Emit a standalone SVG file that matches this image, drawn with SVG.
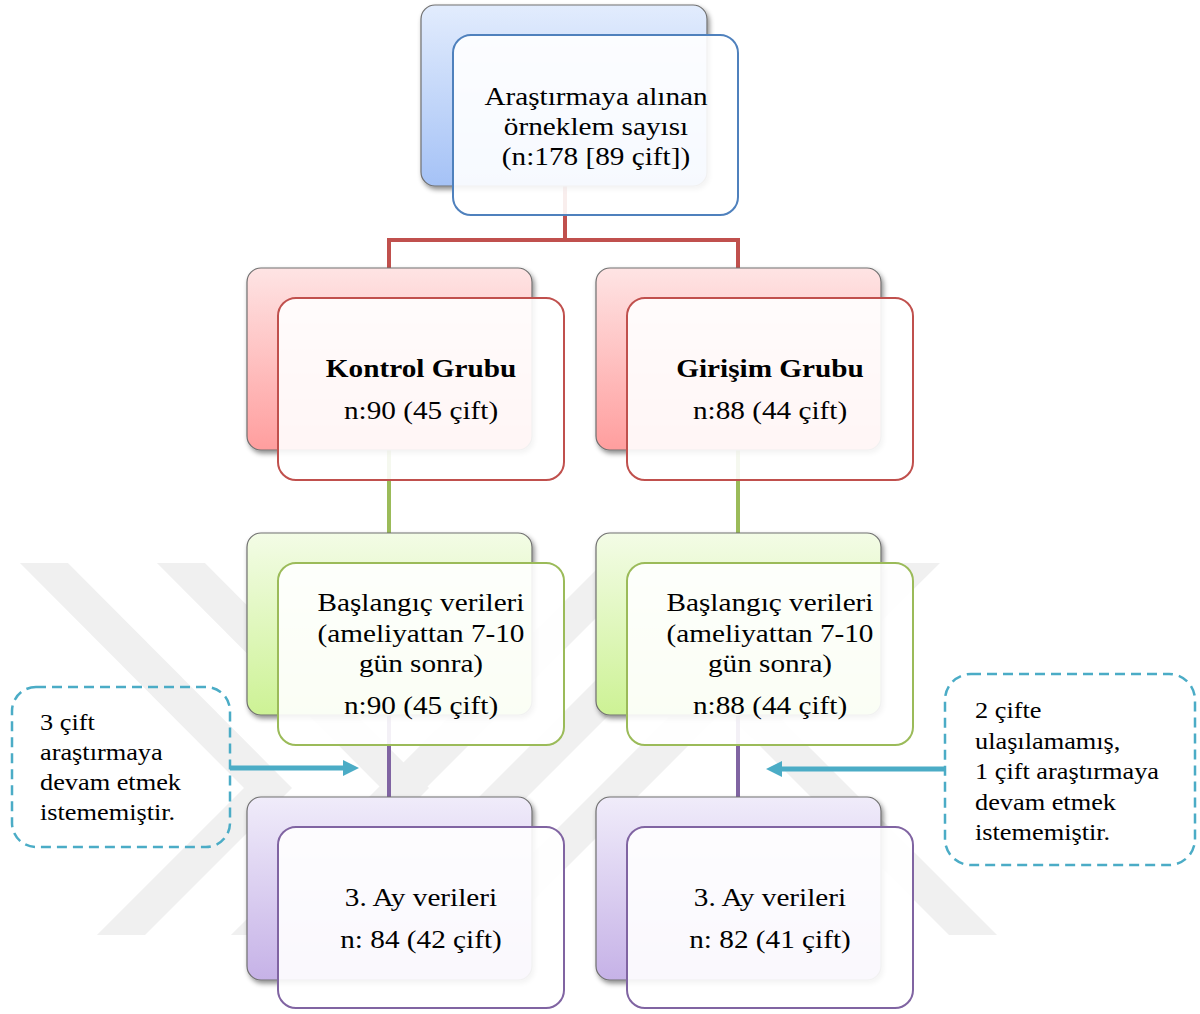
<svg xmlns="http://www.w3.org/2000/svg" width="1200" height="1014" viewBox="0 0 1200 1014">
<style>
.t{font-family:"Liberation Serif","Times New Roman",serif;font-size:25px;fill:#000}
.c{text-anchor:middle}
.b{font-weight:bold}
.s{font-size:22.5px}
.back{stroke:#707070;stroke-width:1.2;filter:url(#sh)}
.front{fill:#fff;fill-opacity:0.9;stroke-width:2}
.conn{fill:none;stroke-width:4}
.note{fill:none;stroke:#4bacc6;stroke-width:2.5;stroke-dasharray:10 6}
.arr{stroke:#4bacc6;stroke-width:5}
.wm{fill:none;stroke:#f0f0f0;stroke-width:34;stroke-linejoin:miter}
</style>
<defs>
<filter id="sh" x="-10%" y="-10%" width="125%" height="125%">
<feDropShadow dx="2" dy="3" stdDeviation="2.5" flood-color="#000" flood-opacity="0.45"/>
</filter>
<linearGradient id="gB" x1="0" y1="0" x2="0" y2="1"><stop offset="0" stop-color="#e2ecfd"/><stop offset="1" stop-color="#a5c2f6"/></linearGradient>
<linearGradient id="gR" x1="0" y1="0" x2="0" y2="1"><stop offset="0" stop-color="#fee4e4"/><stop offset="1" stop-color="#ff9e9e"/></linearGradient>
<linearGradient id="gG" x1="0" y1="0" x2="0" y2="1"><stop offset="0" stop-color="#f3fce6"/><stop offset="1" stop-color="#cdf295"/></linearGradient>
<linearGradient id="gP" x1="0" y1="0" x2="0" y2="1"><stop offset="0" stop-color="#f0ecfa"/><stop offset="1" stop-color="#c6b2e7"/></linearGradient>
<clipPath id="wmc"><rect x="0" y="563" width="1200" height="372"/></clipPath>
<marker id="ah" viewBox="0 0 16 16" markerWidth="16" markerHeight="16" markerUnits="userSpaceOnUse" refX="1" refY="8" orient="auto"><path d="M0,0 L16,8 L0,16 z" fill="#4bacc6"/></marker>
</defs>
<rect width="1200" height="1014" fill="#fff"/>
<g id="watermark" clip-path="url(#wmc)">
<polyline class="wm" points="24,543 268,788 101,955"/>
<polyline class="wm" points="161,543 405,788 238,955"/>
<polyline class="wm" points="936,543 758,720 993,955"/>
<line class="wm" x1="647" y1="543" x2="235" y2="955"/>
<line class="wm" x1="757" y1="543" x2="345" y2="955"/>
<line class="wm" x1="867" y1="543" x2="455" y2="955"/>
</g>
<g id="connectors">
<path class="conn" stroke="#c0504d" d="M565,186 V240 M389,268 V240 H738 V268"/>
<path class="conn" stroke="#9bbb59" d="M389,450 V533 M738,450 V533"/>
<path class="conn" stroke="#8064a2" d="M389,715 V797 M738,715 V797"/>
</g>
<g id="n-top">
<rect class="back" x="421" y="5" width="286" height="181" rx="14" fill="url(#gB)"/>
<rect class="front" x="453" y="35" width="285" height="180" rx="18" stroke="#4f81bd"/>
<g transform="matrix(1.17 0 0 1 596 0)">
<text class="t c" x="0" y="105">Araştırmaya alınan</text>
<text class="t c" x="0" y="135">örneklem sayısı</text>
<text class="t c" x="0" y="165">(n:178 [89 çift])</text>
</g>
</g>
<g id="n-kontrol">
<rect class="back" x="247" y="268" width="285" height="182" rx="14" fill="url(#gR)"/>
<rect class="front" x="278" y="298" width="286" height="182" rx="18" stroke="#c0504d"/>
<g transform="matrix(1.17 0 0 1 421 0)">
<text class="t c b" x="0" y="377">Kontrol Grubu</text>
<text class="t c" x="0" y="419">n:90 (45 çift)</text>
</g>
</g>
<g id="n-girisim">
<rect class="back" x="596" y="268" width="285" height="182" rx="14" fill="url(#gR)"/>
<rect class="front" x="627" y="298" width="286" height="182" rx="18" stroke="#c0504d"/>
<g transform="matrix(1.17 0 0 1 770 0)">
<text class="t c b" x="0" y="377">Girişim Grubu</text>
<text class="t c" x="0" y="419">n:88 (44 çift)</text>
</g>
</g>
<g id="n-baslangic-k">
<rect class="back" x="247" y="533" width="285" height="182" rx="14" fill="url(#gG)"/>
<rect class="front" x="278" y="563" width="286" height="182" rx="18" stroke="#9bbb59"/>
<g transform="matrix(1.17 0 0 1 421 0)">
<text class="t c" x="0" y="611">Başlangıç verileri</text>
<text class="t c" x="0" y="642">(ameliyattan 7-10</text>
<text class="t c" x="0" y="672">gün sonra)</text>
<text class="t c" x="0" y="714">n:90 (45 çift)</text>
</g>
</g>
<g id="n-baslangic-g">
<rect class="back" x="596" y="533" width="285" height="182" rx="14" fill="url(#gG)"/>
<rect class="front" x="627" y="563" width="286" height="182" rx="18" stroke="#9bbb59"/>
<g transform="matrix(1.17 0 0 1 770 0)">
<text class="t c" x="0" y="611">Başlangıç verileri</text>
<text class="t c" x="0" y="642">(ameliyattan 7-10</text>
<text class="t c" x="0" y="672">gün sonra)</text>
<text class="t c" x="0" y="714">n:88 (44 çift)</text>
</g>
</g>
<g id="n-ay3-k">
<rect class="back" x="247" y="797" width="285" height="183" rx="14" fill="url(#gP)"/>
<rect class="front" x="278" y="827" width="286" height="181" rx="18" stroke="#8064a2"/>
<g transform="matrix(1.17 0 0 1 421 0)">
<text class="t c" x="0" y="906">3. Ay verileri</text>
<text class="t c" x="0" y="948">n: 84 (42 çift)</text>
</g>
</g>
<g id="n-ay3-g">
<rect class="back" x="596" y="797" width="285" height="183" rx="14" fill="url(#gP)"/>
<rect class="front" x="627" y="827" width="286" height="181" rx="18" stroke="#8064a2"/>
<g transform="matrix(1.17 0 0 1 770 0)">
<text class="t c" x="0" y="906">3. Ay verileri</text>
<text class="t c" x="0" y="948">n: 82 (41 çift)</text>
</g>
</g>
<g id="note-left">
<rect class="note" x="12" y="687" width="218" height="160" rx="24"/>
<g transform="matrix(1.17 0 0 1 40 0)">
<text class="t s" x="0" y="730">3 çift</text>
<text class="t s" x="0" y="760">araştırmaya</text>
<text class="t s" x="0" y="790">devam etmek</text>
<text class="t s" x="0" y="820">istememiştir.</text>
</g>
</g>
<g id="note-right">
<rect class="note" x="945" y="674" width="250" height="191" rx="26"/>
<g transform="matrix(1.17 0 0 1 975 0)">
<text class="t s" x="0" y="718">2 çifte</text>
<text class="t s" x="0" y="749">ulaşılamamış,</text>
<text class="t s" x="0" y="779">1 çift araştırmaya</text>
<text class="t s" x="0" y="810">devam etmek</text>
<text class="t s" x="0" y="840">istememiştir.</text>
</g>
</g>
<g id="arrows">
<line class="arr" x1="230" y1="768" x2="344" y2="768" marker-end="url(#ah)"/>
<line class="arr" x1="945" y1="769" x2="781" y2="769" marker-end="url(#ah)"/>
</g>
</svg>
